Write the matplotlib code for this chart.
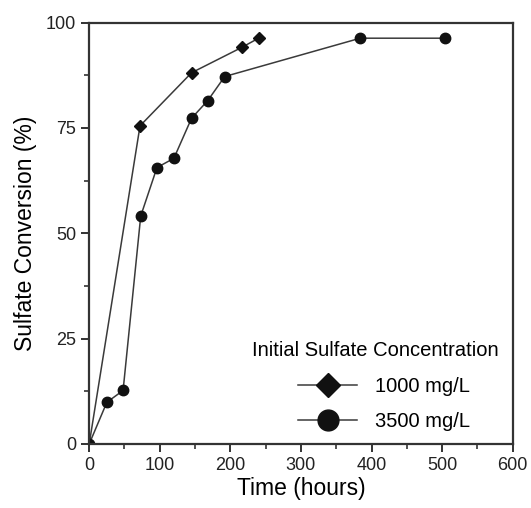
import matplotlib
matplotlib.use("Agg")
import matplotlib.pyplot as plt
from matplotlib.ticker import MultipleLocator

plt.rcParams['font.family'] = ['Liberation Sans', 'DejaVu Sans']

# Sulfate conversion vs time
time_1000 = [0, 72, 145, 216, 240]
conv_1000 = [0, 75.5, 88.1, 94.1, 96.3]

time_3500 = [0, 25, 48, 73, 96, 120, 145, 168, 192, 384, 504]
conv_3500 = [0, 9.9, 12.7, 54.1, 65.6, 67.8, 77.3, 81.5, 87.2, 96.3, 96.3]

labels = ['1000 mg/L', '3500 mg/L']
legend_title = 'Initial Sulfate Concentration'

fig = plt.figure(figsize=(5.31, 5.08), dpi=100)
ax = fig.add_axes([0.168, 0.126, 0.7975, 0.8295])

ax.plot(time_1000, conv_1000, color='#3a3a3a', lw=1.1, marker='D',
        markersize=6, markerfacecolor='#111111', markeredgecolor='#111111',
        label=labels[0])
ax.plot(time_3500, conv_3500, color='#3a3a3a', lw=1.1, marker='o',
        markersize=7.5, markerfacecolor='#111111', markeredgecolor='#111111',
        label=labels[1])

ax.set_xlim(0, 600)
ax.set_ylim(0, 100)
ax.xaxis.set_major_locator(MultipleLocator(100))
ax.xaxis.set_minor_locator(MultipleLocator(50))
ax.yaxis.set_major_locator(MultipleLocator(25))
ax.yaxis.set_minor_locator(MultipleLocator(12.5))
ax.tick_params(which='major', direction='out', length=6, width=1.3,
               labelsize=13, colors='#222222')
ax.tick_params(which='minor', direction='out', length=3.5, width=1.1,
               colors='#222222')
for s in ax.spines.values():
    s.set_linewidth(1.6)
    s.set_color('#333333')

ax.set_xlabel('Time (hours)', fontsize=16.5, labelpad=2)
ax.set_ylabel('Sulfate Conversion (%)', fontsize=16.5, labelpad=6)

ax.legend(loc='lower right', bbox_to_anchor=(0.923, 0.008), frameon=False,
          fontsize=14.5, markerscale=2.0, handlelength=2.9, borderpad=0,
          labelspacing=0.75, handletextpad=0.9)
ax.text(0.675, 0.223, legend_title, transform=ax.transAxes, fontsize=14.5,
        ha='center', va='center')

fig.savefig('out.png', dpi=100)
